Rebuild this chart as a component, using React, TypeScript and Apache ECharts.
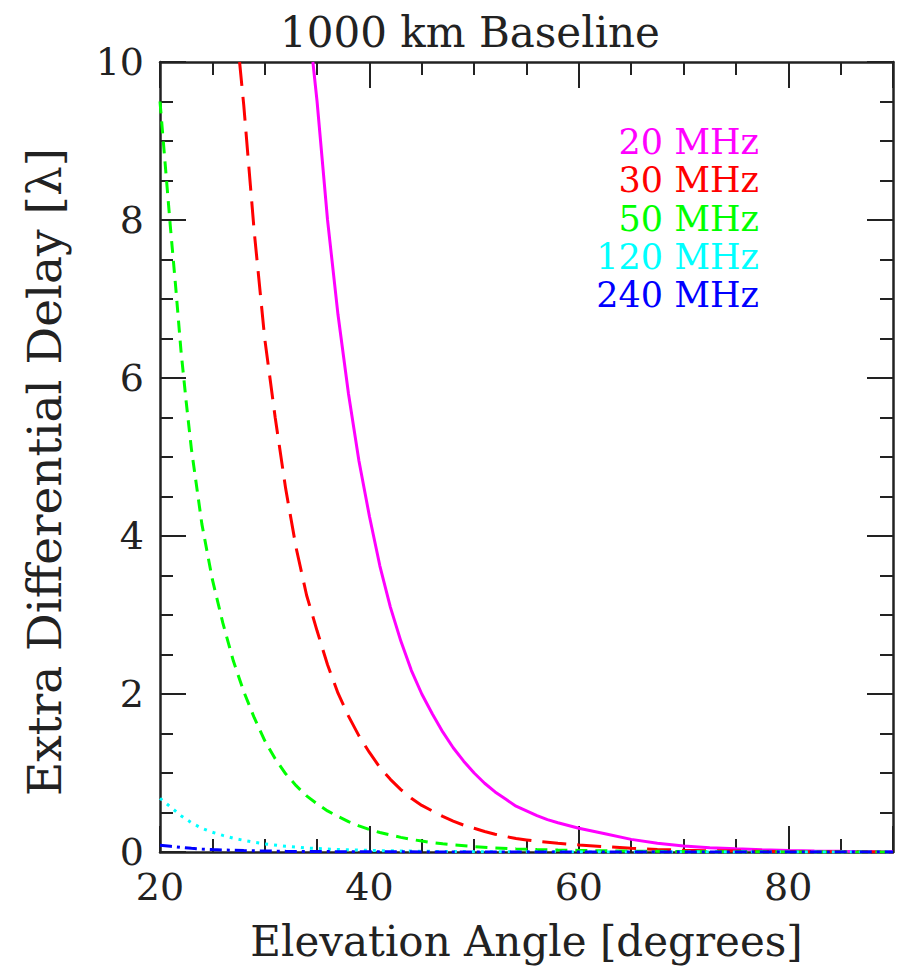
import React, { useEffect, useRef } from "react";
import * as echarts from "echarts";

const TITLE = "1000 km Baseline";
const X_NAME = "Elevation Angle [degrees]";
const Y_NAME = "Extra Differential Delay [λ]";
const X_LABELS = [20, 40, 60, 80];

const SERIES_NAMES = ["20 MHz", "30 MHz", "50 MHz", "120 MHz", "240 MHz"];
const COLORS = ["#ff00ff", "#ff0000", "#00ff00", "#00ffff", "#0000ff"];

const ANGLE_20 = [34.6, 35, 36, 37, 38, 39, 40, 41, 42, 43, 44, 45, 46, 47, 48, 49, 50, 51, 52, 53, 54, 55, 56, 57, 58, 59, 60, 62.5, 65, 67.5, 70, 72.5, 75, 77.5, 80, 82.5, 85, 87.5, 90];
const DELAY_20 = [10, 9.5, 8.0, 6.8, 5.8, 4.95, 4.25, 3.62, 3.1, 2.67, 2.3, 2.0, 1.75, 1.52, 1.32, 1.15, 1.0, 0.87, 0.76, 0.67, 0.58, 0.52, 0.46, 0.41, 0.37, 0.335, 0.3, 0.23, 0.16, 0.11, 0.076, 0.055, 0.04, 0.027, 0.018, 0.012, 0.008, 0.005, 0.003];

const ANGLE_30 = [27.6, 28, 29, 30, 31, 32, 33, 34, 35, 36, 37, 38, 39, 40, 41, 42, 43, 44, 45, 46, 47, 48, 49, 50, 51, 52, 53, 54, 55, 56, 58, 60, 62.5, 65, 67.5, 70, 72.5, 75, 77.5, 80, 85, 90];
const DELAY_30 = [10, 9.45, 7.85, 6.5, 5.5, 4.6, 3.85, 3.25, 2.8, 2.37, 2.01, 1.72, 1.47, 1.26, 1.07, 0.92, 0.79, 0.68, 0.59, 0.52, 0.45, 0.39, 0.34, 0.3, 0.26, 0.225, 0.197, 0.17, 0.153, 0.136, 0.11, 0.089, 0.068, 0.047, 0.033, 0.022, 0.016, 0.012, 0.008, 0.005, 0.0024, 0.001];

const ANGLE_50 = [20, 20.5, 21, 21.5, 22, 22.5, 23, 24, 25, 26, 27, 28, 29, 30, 31, 32, 33, 34, 35, 36, 37, 38, 39, 40, 41, 42, 43, 44, 45, 46, 47, 48, 50, 52, 54, 56, 58, 60, 65, 70, 75, 80, 85, 90];
const DELAY_50 = [9.5, 8.7, 7.9, 7.15, 6.35, 5.7, 5.1, 4.15, 3.45, 2.9, 2.42, 2.03, 1.7, 1.41, 1.18, 0.99, 0.84, 0.71, 0.61, 0.52, 0.45, 0.385, 0.33, 0.285, 0.247, 0.215, 0.185, 0.16, 0.138, 0.12, 0.104, 0.09, 0.068, 0.052, 0.04, 0.031, 0.025, 0.02, 0.011, 0.006, 0.003, 0.0015, 0.0006, 0.0002];

const ANGLE_120 = [20, 21, 22, 23, 24, 25, 26, 27, 28, 29, 30, 32, 34, 36, 38, 40, 45, 50, 60, 70, 80, 90];
const DELAY_120 = [0.68, 0.57, 0.46, 0.37, 0.3, 0.25, 0.21, 0.175, 0.147, 0.123, 0.102, 0.072, 0.051, 0.037, 0.027, 0.02, 0.009, 0.0046, 0.0014, 0.0004, 0.0001, 0];

const ANGLE_240 = [20, 21, 22, 23, 24, 25, 26, 28, 30, 32, 35, 40, 50, 60, 70, 80, 90];
const DELAY_240 = [0.086, 0.072, 0.058, 0.046, 0.038, 0.031, 0.026, 0.018, 0.013, 0.009, 0.0055, 0.0025, 0.0006, 0.0002, 0.00005, 0, 0];

const ANGLES = [ANGLE_20, ANGLE_30, ANGLE_50, ANGLE_120, ANGLE_240];
const DELAYS = [DELAY_20, DELAY_30, DELAY_50, DELAY_120, DELAY_240];
const DASHES: any[] = ["solid", [24, 11], [12, 8], [3, 6], [12, 5, 3, 5]];

const FONT = "DejaVu Serif";
const INK = "#222";

export default function App() {
  const ref = useRef<HTMLDivElement>(null);
  useEffect(() => {
    document.body.style.margin = "0";
    const chart = echarts.init(ref.current!, undefined, { renderer: "svg" });

    const baseX = {
      type: "value",
      min: 20,
      max: 90,
      splitLine: { show: false },
      axisLine: { onZero: false, lineStyle: { color: INK, width: 2.5 } },
    };
    const baseY = {
      type: "value",
      min: 0,
      max: 10,
      interval: 2,
      splitLine: { show: false },
      axisLine: { onZero: false, lineStyle: { color: INK, width: 2.5 } },
      axisTick: { inside: true, length: 26, lineStyle: { color: INK, width: 2 } },
      minorTick: { show: true, splitNumber: 4, length: 13, lineStyle: { color: INK, width: 2 } },
    };

    const option: any = {
      animation: false,
      backgroundColor: "#fff",
      title: {
        text: TITLE,
        left: 465,
        textAlign: "center",
        top: 6,
        textStyle: { fontFamily: FONT, fontSize: 42, fontWeight: "normal", color: INK },
      },
      grid: { left: 160, right: 7, top: 62, bottom: 116, containLabel: false, outerBoundsMode: "none" },
      xAxis: [
        {
          ...baseX,
          position: "bottom",
          interval: 5,
          axisTick: { inside: true, length: 13, lineStyle: { color: INK, width: 2 } },
          axisLabel: {
            margin: 16,
            fontFamily: FONT,
            fontSize: 38,
            color: INK,
            formatter: (v: number) => (X_LABELS.includes(v) ? String(v) : ""),
          },
          name: X_NAME,
          nameLocation: "middle",
          nameGap: 68,
          nameTextStyle: { fontFamily: FONT, fontSize: 42, color: INK },
        },
        {
          ...baseX,
          position: "bottom",
          interval: 20,
          axisLine: { show: false, onZero: false },
          axisTick: { inside: true, length: 26, lineStyle: { color: INK, width: 2 } },
          axisLabel: { show: false },
        },
        {
          ...baseX,
          position: "top",
          interval: 5,
          axisTick: { inside: true, length: 13, lineStyle: { color: INK, width: 2 } },
          axisLabel: { show: false },
        },
        {
          ...baseX,
          position: "top",
          interval: 20,
          axisLine: { show: false, onZero: false },
          axisTick: { inside: true, length: 26, lineStyle: { color: INK, width: 2 } },
          axisLabel: { show: false },
        },
      ],
      yAxis: [
        {
          ...baseY,
          position: "left",
          axisLabel: { margin: 16, fontFamily: FONT, fontSize: 38, color: INK },
          name: Y_NAME,
          nameLocation: "middle",
          nameGap: 92,
          nameTextStyle: { fontFamily: FONT, fontSize: 47, color: INK, padding: [0, 30, 0, 0] },
        },
        {
          ...baseY,
          position: "right",
          axisLabel: { show: false },
        },
      ],
      series: SERIES_NAMES.map((name, i) => ({
        name,
        type: "line",
        xAxisIndex: 0,
        yAxisIndex: 0,
        data: ANGLES[i].map((a, k) => [a, DELAYS[i][k]]),
        showSymbol: false,
        symbol: "none",
        smooth: false,
        clip: true,
        z: 3,
        lineStyle: { color: COLORS[i], width: 3, type: DASHES[i] },
      })),
      graphic: SERIES_NAMES.map((name, i) => ({
        type: "text",
        x: 759,
        y: 142 + i * 38.3,
        z: 10,
        style: {
          text: name,
          fill: COLORS[i],
          font: `35px "${FONT}"`,
          textAlign: "right",
          textVerticalAlign: "middle",
        },
      })),
    };
    chart.setOption(option);
    return () => chart.dispose();
  }, []);
  return <div ref={ref} style={{ width: 900, height: 968 }} />;
}
